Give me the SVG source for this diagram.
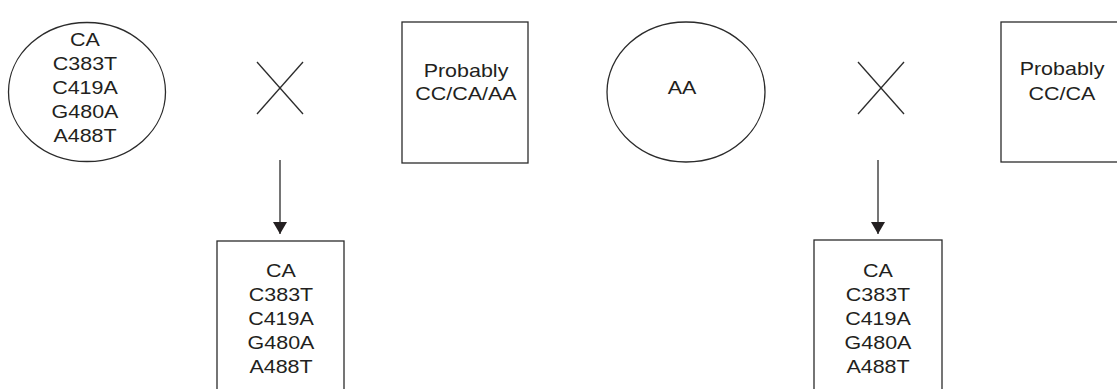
<svg xmlns="http://www.w3.org/2000/svg" width="1117" height="389" viewBox="0 0 1117 389">
  <style>
    .shape { fill: #ffffff; stroke: #2b2b2b; stroke-width: 1.3; }
    .line { fill: none; stroke: #2b2b2b; stroke-width: 1.3; }
    .label { font-family: "Liberation Sans", Arial, sans-serif; font-size: 19px; fill: #231f20; text-anchor: middle; }
  </style>
  <defs>
    <marker id="arrowhead" viewBox="0 0 12 14" refX="12" refY="7" markerWidth="12" markerHeight="14" markerUnits="userSpaceOnUse" orient="auto">
      <path d="M0,0 L12,7 L0,14 Z" fill="#231f20"/>
    </marker>
  </defs>
  <rect width="1117" height="389" fill="#ffffff"/>

  <!-- first cross: CA parent -->
  <g id="parent-ca">
    <ellipse class="shape" cx="87" cy="92" rx="78.5" ry="69.5"/>
    <g transform="translate(85 0) scale(1.13 1)">
      <text class="label" x="0" y="46">CA</text>
      <text class="label" x="0" y="70">C383T</text>
      <text class="label" x="0" y="94">C419A</text>
      <text class="label" x="0" y="118">G480A</text>
      <text class="label" x="0" y="142">A488T</text>
    </g>
  </g>

  <g id="cross-1">
    <line class="line" x1="257" y1="62" x2="303" y2="114"/>
    <line class="line" x1="303" y1="62" x2="257" y2="114"/>
  </g>

  <g id="parent-cc-ca-aa">
    <rect class="shape" x="402" y="22" width="126" height="141"/>
    <g transform="translate(466 0) scale(1.13 1)">
      <text class="label" x="0" y="77">Probably</text>
      <text class="label" x="0" y="100">CC/CA/AA</text>
    </g>
  </g>

  <g id="offspring-1">
    <rect class="shape" x="217" y="241" width="127" height="160"/>
    <g transform="translate(281 0) scale(1.13 1)">
      <text class="label" x="0" y="277">CA</text>
      <text class="label" x="0" y="301">C383T</text>
      <text class="label" x="0" y="325">C419A</text>
      <text class="label" x="0" y="349">G480A</text>
      <text class="label" x="0" y="373">A488T</text>
    </g>
  </g>

  <!-- second cross: AA parent -->
  <g id="parent-aa">
    <ellipse class="shape" cx="686" cy="92" rx="79" ry="70"/>
    <g transform="translate(682 0) scale(1.13 1)">
      <text class="label" x="0" y="94">AA</text>
    </g>
  </g>

  <g id="cross-2">
    <line class="line" x1="858" y1="62" x2="904" y2="114"/>
    <line class="line" x1="904" y1="62" x2="858" y2="114"/>
  </g>

  <g id="parent-cc-ca">
    <rect class="shape" x="1001" y="22" width="130" height="140"/>
    <g transform="translate(1062 0) scale(1.13 1)">
      <text class="label" x="0" y="75">Probably</text>
      <text class="label" x="0" y="100">CC/CA</text>
    </g>
  </g>

  <g id="offspring-2">
    <rect class="shape" x="814" y="240" width="128" height="160"/>
    <g transform="translate(878 0) scale(1.13 1)">
      <text class="label" x="0" y="277">CA</text>
      <text class="label" x="0" y="301">C383T</text>
      <text class="label" x="0" y="325">C419A</text>
      <text class="label" x="0" y="349">G480A</text>
      <text class="label" x="0" y="373">A488T</text>
    </g>
  </g>

  <g id="connectors">
    <line class="line" x1="280" y1="160" x2="280" y2="234" marker-end="url(#arrowhead)"/>
    <line class="line" x1="878" y1="160" x2="878" y2="234" marker-end="url(#arrowhead)"/>
  </g>
</svg>
